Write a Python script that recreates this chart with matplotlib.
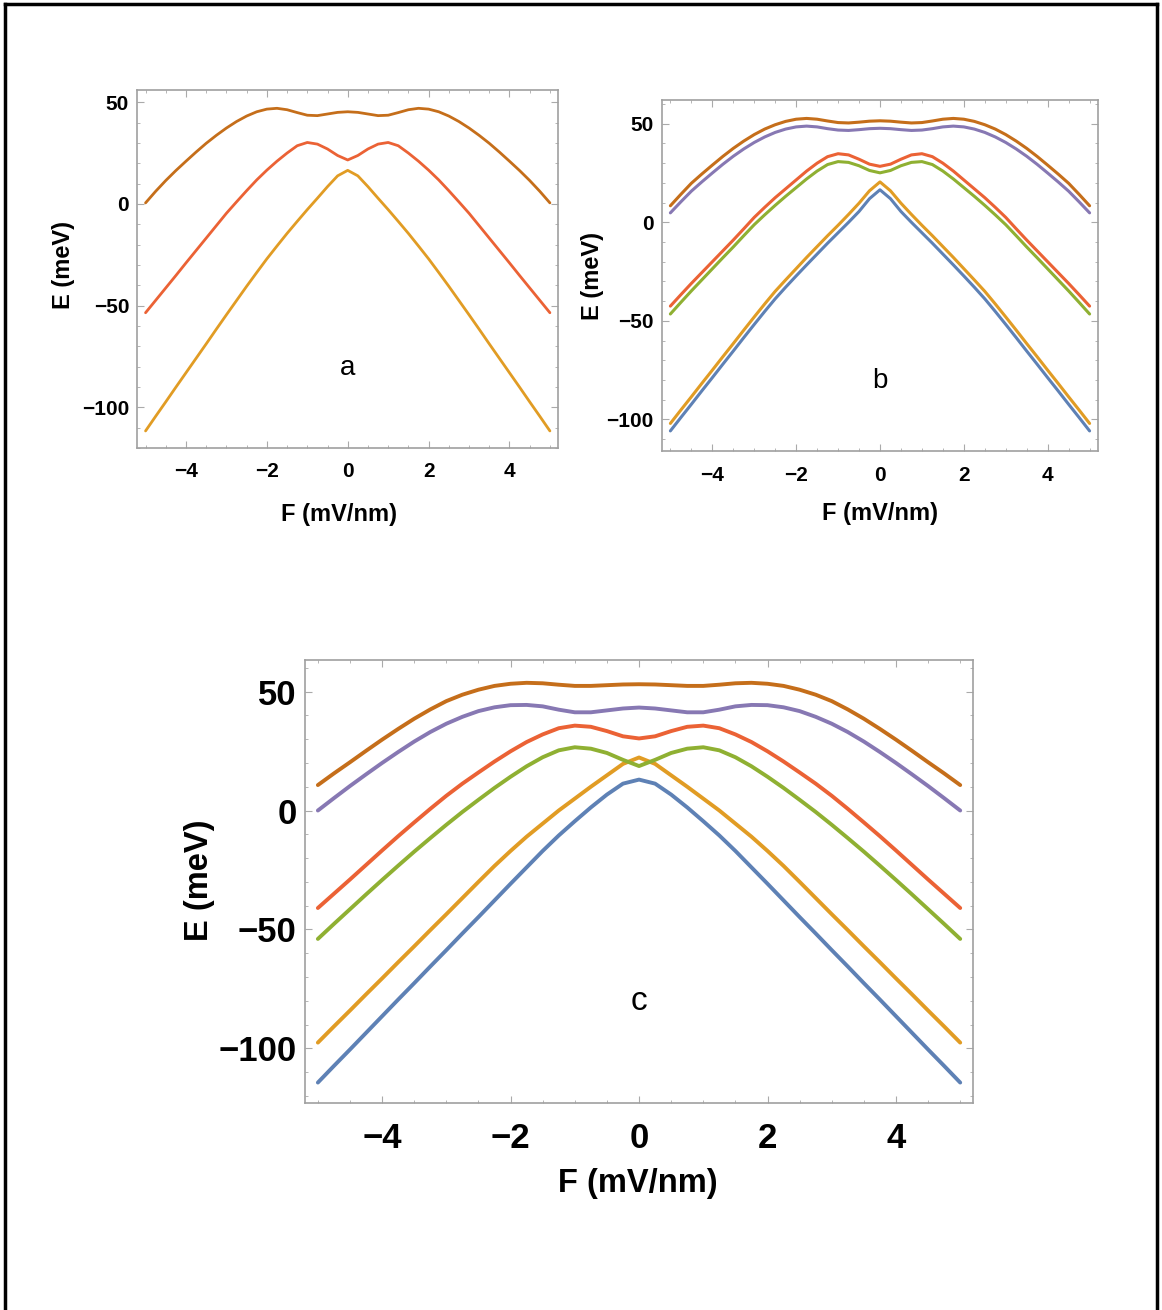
import matplotlib.pyplot as plt
from matplotlib.lines import Line2D
from matplotlib.ticker import MultipleLocator

# field values shared by every band (mV/nm)
F = [-5, -4.75, -4.5, -4.25, -4, -3.75, -3.5, -3.25, -3, -2.75, -2.5, -2.25, -2, -1.75, -1.5, -1.25, -1, -0.75, -0.5, -0.25,
     0, 0.25, 0.5, 0.75, 1, 1.25, 1.5, 1.75, 2, 2.25, 2.5, 2.75, 3, 3.25, 3.5, 3.75, 4, 4.25, 4.5, 4.75, 5]

# panel a (meV)
a_top = [0.5, 6.2, 11.5, 16.4, 21, 25.5, 29.8, 33.7, 37.3, 40.5, 43.2, 45.3, 46.6, 47, 46.3, 44.9, 43.6, 43.4, 44.2, 45,
         45.3, 45, 44.2, 43.4, 43.6, 44.9, 46.3, 47, 46.6, 45.3, 43.2, 40.5, 37.3, 33.7, 29.8, 25.5, 21, 16.4, 11.5, 6.2, 0.5]
a_mid = [-53.5, -47.4, -41.3, -35.2, -29, -22.9, -16.8, -10.7, -4.6, 1, 6.5, 11.8, 16.6, 21, 25, 28.6, 30.2, 29.4, 27, 23.8,
         21.6, 23.8, 27, 29.4, 30.2, 28.6, 25, 21, 16.6, 11.8, 6.5, 1, -4.6, -10.7, -16.8, -22.9, -29, -35.2, -41.3, -47.4, -53.5]
a_low = [-111.6, -104.4, -97.3, -90.1, -83, -75.9, -68.8, -61.6, -54.5, -47.5, -40.5, -33.7, -27, -20.7, -14.5, -8.6, -2.8, 2.8, 8.5, 13.8,
         16.5, 13.8, 8.5, 2.8, -2.8, -8.6, -14.5, -20.7, -27, -33.7, -40.5, -47.5, -54.5, -61.6, -68.8, -75.9, -83, -90.1, -97.3, -104.4, -111.6]

# panel b (meV)
b_e6 = [8.4, 14.2, 19.8, 24.5, 29, 33.4, 37.5, 41.2, 44.5, 47.3, 49.5, 51.2, 52.3, 52.7, 52.3, 51.4, 50.6, 50.4, 50.8, 51.3,
        51.5, 51.3, 50.8, 50.4, 50.6, 51.4, 52.3, 52.7, 52.3, 51.2, 49.5, 47.3, 44.5, 41.2, 37.5, 33.4, 29, 24.5, 19.8, 14.2, 8.4]
b_e5 = [4.8, 10.4, 15.8, 20.5, 25, 29.4, 33.5, 37.2, 40.5, 43.3, 45.6, 47.3, 48.4, 48.8, 48.4, 47.5, 46.8, 46.6, 47, 47.5,
        47.7, 47.5, 47, 46.6, 46.8, 47.5, 48.4, 48.8, 48.4, 47.3, 45.6, 43.3, 40.5, 37.2, 33.5, 29.4, 25, 20.5, 15.8, 10.4, 4.8]
b_e4 = [-42.5, -36.7, -31, -25.5, -20, -14.5, -9, -3.3, 2.5, 7.6, 12.5, 17, 21.5, 26, 30, 33.3, 34.8, 34.2, 32, 29.5,
        28.4, 29.5, 32, 34.2, 34.8, 33.3, 30, 26, 21.5, 17, 12.5, 7.6, 2.5, -3.3, -9, -14.5, -20, -25.5, -31, -36.7, -42.5]
b_e3 = [-46.5, -40.6, -34.8, -29.2, -23.6, -18, -12.5, -6.8, -1.2, 3.8, 8.6, 13.2, 17.6, 22, 26, 29.3, 30.8, 30.4, 28.7, 26.3,
        25.1, 26.3, 28.7, 30.4, 30.8, 29.3, 26, 22, 17.6, 13.2, 8.6, 3.8, -1.2, -6.8, -12.5, -18, -23.6, -29.2, -34.8, -40.6, -46.5]
b_e2 = [-102, -95.2, -88.5, -81.7, -75, -68.2, -61.5, -54.7, -48, -41.4, -35, -29.2, -23.5, -17.8, -12.3, -6.8, -1.5, 4, 9.7, 16,
        20.5, 16, 9.7, 4, -1.5, -6.8, -12.3, -17.8, -23.5, -29.2, -35, -41.4, -48, -54.7, -61.5, -68.2, -75, -81.7, -88.5, -95.2, -102]
b_e1 = [-105.8, -99, -92.3, -85.5, -78.8, -72, -65.3, -58.5, -51.8, -45.2, -38.8, -32.9, -27.2, -21.6, -16.1, -10.6, -5.3, 0, 5.5, 12,
        16.5, 12, 5.5, 0, -5.3, -10.6, -16.1, -21.6, -27.2, -32.9, -38.8, -45.2, -51.8, -58.5, -65.3, -72, -78.8, -85.5, -92.3, -99, -105.8]

# panel c (meV)
c_e6 = [10.7, 15.6, 20.3, 25.1, 29.8, 34.3, 38.6, 42.5, 46, 48.7, 50.8, 52.4, 53.3, 53.7, 53.5, 52.9, 52.4, 52.4, 52.7, 53,
        53.1, 53, 52.7, 52.4, 52.4, 52.9, 53.5, 53.7, 53.3, 52.4, 50.8, 48.7, 46, 42.5, 38.6, 34.3, 29.8, 25.1, 20.3, 15.6, 10.7]
c_e5 = [0, 5.2, 10.3, 15.2, 20, 24.6, 29, 33, 36.5, 39.4, 41.8, 43.4, 44.3, 44.4, 43.8, 42.4, 41.3, 41.3, 42.1, 42.9,
        43.3, 42.9, 42.1, 41.3, 41.3, 42.4, 43.8, 44.4, 44.3, 43.4, 41.8, 39.4, 36.5, 33, 29, 24.6, 20, 15.2, 10.3, 5.2, 0]
c_e4 = [-41, -35, -29, -22.9, -16.8, -10.8, -5, 0.7, 6.2, 11.3, 16, 20.6, 24.9, 28.8, 32, 34.6, 35.7, 35.2, 33.4, 31.2,
        30.3, 31.2, 33.4, 35.2, 35.7, 34.6, 32, 28.8, 24.9, 20.6, 16, 11.3, 6.2, 0.7, -5, -10.8, -16.8, -22.9, -29, -35, -41]
c_e3 = [-54, -47.7, -41.5, -35.3, -29.2, -23.2, -17.3, -11.6, -6, -0.6, 4.5, 9.5, 14.2, 18.6, 22.4, 25.3, 26.6, 26, 24.2, 21.3,
        18.7, 21.3, 24.2, 26, 26.6, 25.3, 22.4, 18.6, 14.2, 9.5, 4.5, -0.6, -6, -11.6, -17.3, -23.2, -29.2, -35.3, -41.5, -47.7, -54]
c_e2 = [-97.6, -90.8, -84.1, -77.3, -70.6, -63.8, -57.1, -50.3, -43.6, -36.8, -30, -23.3, -17, -11, -5.5, 0, 5, 10, 14.8, 19.6,
        22.3, 19.6, 14.8, 10, 5, 0, -5.5, -11, -17, -23.3, -30, -36.8, -43.6, -50.3, -57.1, -63.8, -70.6, -77.3, -84.1, -90.8, -97.6]
c_e1 = [-114.4, -107.4, -100.5, -93.5, -86.5, -79.5, -72.6, -65.6, -58.7, -51.7, -44.8, -37.8, -30.8, -23.9, -17, -10.5, -4.5, 1.3, 6.7, 11.3,
        13, 11.3, 6.7, 1.3, -4.5, -10.5, -17, -23.9, -30.8, -37.8, -44.8, -51.7, -58.7, -65.6, -72.6, -79.5, -86.5, -93.5, -100.5, -107.4, -114.4]

BLUE, ORANGE, GREEN, RED, PURPLE, BROWN = "#5E81B5", "#E19C24", "#8FB032", "#EB6235", "#8778B3", "#C56E1A"

plt.rcParams["font.family"] = ["Liberation Sans", "DejaVu Sans"]

fig = plt.figure(figsize=(11.62, 13.10), dpi=100)


def panel(rect, bands, ylim, tag, fs, lab_fs, lw, tag_fs, pad_x, pad_y):
    ax = fig.add_axes(rect)
    for e, c in bands:
        ax.plot(F, e, color=c, lw=lw, solid_capstyle="round", solid_joinstyle="round")
    ax.set_xlim(-5.2, 5.2)
    ax.set_ylim(*ylim)
    ax.xaxis.set_major_locator(MultipleLocator(2))
    ax.xaxis.set_minor_locator(MultipleLocator(0.5))
    ax.yaxis.set_major_locator(MultipleLocator(50))
    ax.yaxis.set_minor_locator(MultipleLocator(10))
    ax.tick_params(which="both", direction="in", top=True, right=True, color="#aaaaaa")
    ax.tick_params(which="major", length=5, width=0.8, labelsize=fs)
    ax.tick_params(which="minor", length=2.5, width=0.6)
    ax.tick_params(axis="x", which="major", pad=pad_x)
    ax.tick_params(axis="y", which="major", pad=pad_y)
    for lab in ax.get_xticklabels() + ax.get_yticklabels():
        lab.set_fontweight("bold")
    for s in ax.spines.values():
        s.set_color("#a0a0a0")
        s.set_linewidth(1.2)
    ax.set_xlabel("F (mV/nm)", fontsize=lab_fs, fontweight="bold")
    ax.set_ylabel("E (meV)", fontsize=lab_fs, fontweight="bold")
    ax.text(0, -80.5, tag, fontsize=tag_fs, ha="center", va="center")
    return ax


ax_a = panel([0.1183, 0.658, 0.3619, 0.2733],
             [(a_low, ORANGE), (a_mid, RED), (a_top, BROWN)],
             (-120, 56), "a", 15, 17, 2.0, 20, 10, 6)
ax_a.xaxis.set_label_coords(0.48, -0.154)
ax_a.yaxis.set_label_coords(-0.149, 0.51)

ax_b = panel([0.5697, 0.6557, 0.3752, 0.2679],
             [(b_e1, BLUE), (b_e2, ORANGE), (b_e3, GREEN), (b_e4, RED), (b_e5, PURPLE), (b_e6, BROWN)],
             (-116, 62), "b", 15, 17, 2.2, 20, 10.5, 6)
ax_b.xaxis.set_label_coords(0.5, -0.145)
ax_b.yaxis.set_label_coords(-0.133, 0.50)

ax_c = panel([0.2625, 0.158, 0.5749, 0.3382],
             [(c_e1, BLUE), (c_e2, ORANGE), (c_e3, GREEN), (c_e4, RED), (c_e5, PURPLE), (c_e6, BROWN)],
             (-123, 63.3), "c", 25, 23.5, 2.8, 24, 14, 6)
ax_c.xaxis.set_label_coords(0.498, -0.147)
ax_c.yaxis.set_label_coords(-0.135, 0.503)

# outer frame, open at the bottom
for xs, ys in [([0.004, 0.004], [0.0, 0.997]), ([0.004, 0.996], [0.997, 0.997]), ([0.996, 0.996], [0.997, 0.0])]:
    fig.add_artist(Line2D(xs, ys, transform=fig.transFigure, color="black", lw=2.5))

fig.savefig("out.png", dpi=100)
